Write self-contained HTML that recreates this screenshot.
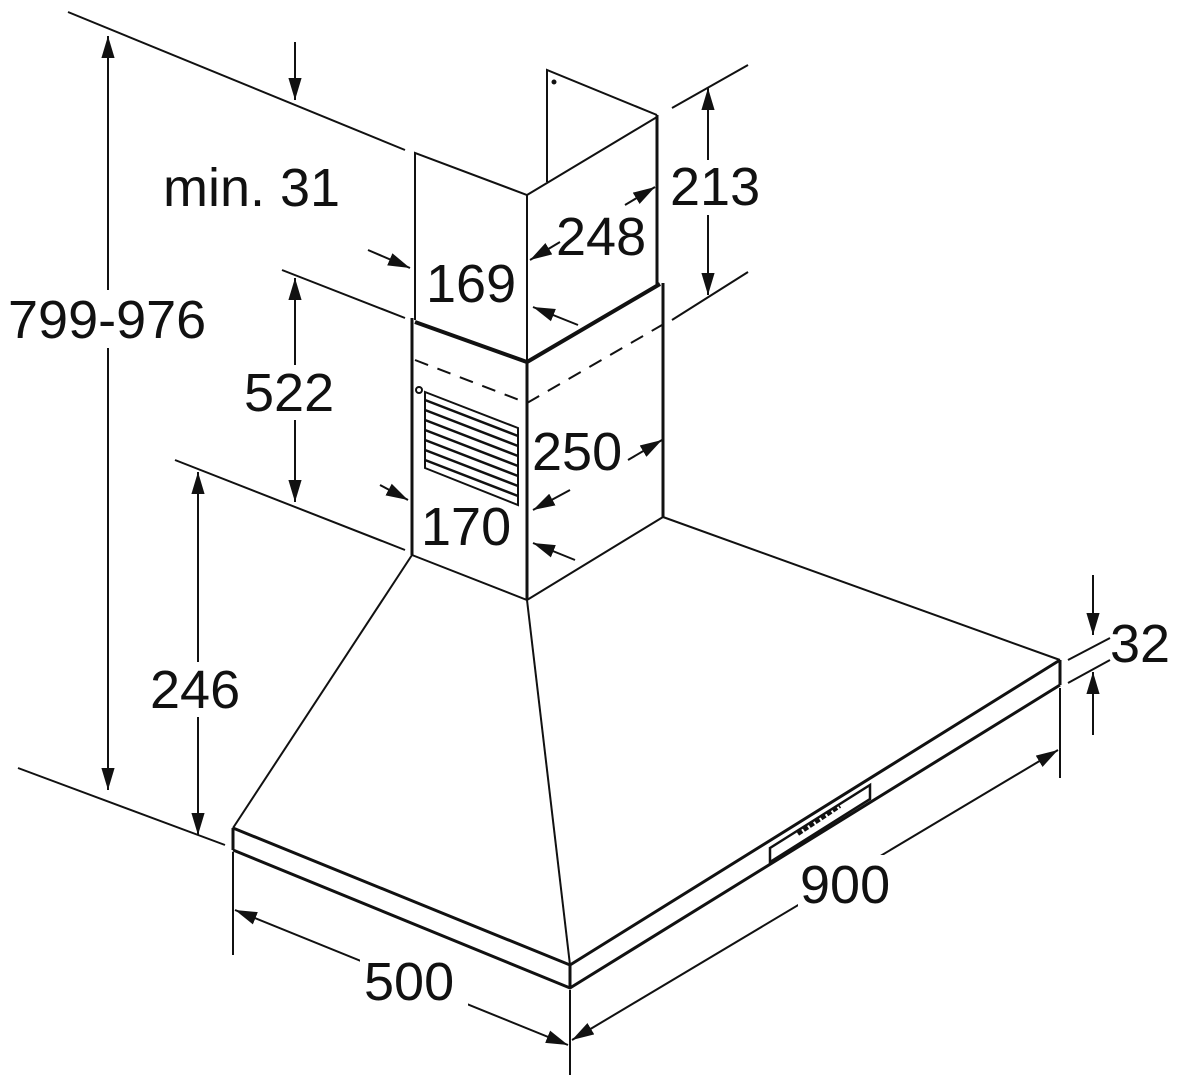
<!DOCTYPE html>
<html><head><style>
html,body{margin:0;padding:0;background:#fff}
svg text{font-family:"Liberation Sans",sans-serif;font-size:54px;fill:#111}
</style></head><body>
<svg width="1180" height="1086" viewBox="0 0 1180 1086" xmlns="http://www.w3.org/2000/svg">
<defs>
<marker id="b" viewBox="0 0 10 10" refX="10" refY="5" markerWidth="22" markerHeight="22" orient="auto-start-reverse" markerUnits="userSpaceOnUse"><path d="M0,2 L10,5 L0,8z" fill="#111"/></marker>
</defs>
<g stroke="#111" stroke-width="2" fill="none">
<line x1="68" y1="12" x2="405" y2="150"/>
<line x1="282" y1="270" x2="405" y2="318"/>
<line x1="175" y1="460" x2="405" y2="550"/>
<line x1="18" y1="768" x2="225" y2="845"/>
<line x1="672" y1="108" x2="748" y2="65"/>
<line x1="672" y1="320" x2="748" y2="272"/>
<line x1="1068" y1="660" x2="1110" y2="638"/>
<line x1="1068" y1="683" x2="1110" y2="660"/>
<line x1="1060" y1="688" x2="1060" y2="778"/>
<line x1="570" y1="990" x2="570" y2="1075"/>
<line x1="233" y1="852" x2="233" y2="955"/>
<polyline points="547,182 547,70 657,115"/>
<polyline points="415,320 415,153 527,195 657,117"/>
<line x1="527" y1="195" x2="527" y2="362"/>
<line x1="657" y1="115" x2="657" y2="285" stroke-width="3"/>
<polyline points="415,322 527,362 660,284" stroke-width="4"/>
<line x1="412" y1="318" x2="412" y2="555" stroke-width="3"/>
<line x1="527" y1="362" x2="527" y2="600" stroke-width="3"/>
<line x1="663" y1="283" x2="663" y2="517" stroke-width="3"/>
<polyline points="415,360 527,403 662,325" stroke-dasharray="14,10"/>
<polyline points="412,555 527,600 663,517"/>
<polygon points="425,392 518,428 518,505 425,468"/>
<g stroke-width="2.5">
<line x1="425" y1="400" x2="518" y2="436"/>
<line x1="425" y1="410" x2="518" y2="446"/>
<line x1="425" y1="420" x2="518" y2="456"/>
<line x1="425" y1="430" x2="518" y2="466"/>
<line x1="425" y1="440" x2="518" y2="476"/>
<line x1="425" y1="450" x2="518" y2="486"/>
<line x1="425" y1="460" x2="518" y2="496"/>
</g>
<circle cx="419" cy="390" r="3"/>
<circle cx="554" cy="82" r="1.5" fill="#111"/>
<line x1="412" y1="555" x2="233" y2="828"/>
<line x1="527" y1="600" x2="570" y2="965"/>
<line x1="663" y1="517" x2="1060" y2="660"/>
<polyline points="233,828 570,965 1060,660" stroke-width="3"/>
<polyline points="233,850 570,988 1060,685" stroke-width="3"/>
<line x1="233" y1="828" x2="233" y2="850" stroke-width="3"/>
<line x1="570" y1="965" x2="570" y2="988" stroke-width="3"/>
<line x1="1060" y1="660" x2="1060" y2="685" stroke-width="3"/>
<polygon points="770,848 870,785 870,799 770,862" stroke-width="2.5"/>
<line x1="798" y1="834" x2="840" y2="806" stroke-width="4" stroke-dasharray="5,2"/>
<line x1="108" y1="36" x2="108" y2="790" marker-start="url(#b)" marker-end="url(#b)"/>
<line x1="295" y1="42" x2="295" y2="100" marker-end="url(#b)"/>
<line x1="295" y1="278" x2="295" y2="502" marker-start="url(#b)" marker-end="url(#b)"/>
<line x1="198" y1="472" x2="198" y2="835" marker-start="url(#b)" marker-end="url(#b)"/>
<line x1="708" y1="88" x2="708" y2="295" marker-start="url(#b)" marker-end="url(#b)"/>
<line x1="625" y1="205" x2="655" y2="187" marker-end="url(#b)"/>
<line x1="560" y1="242" x2="530" y2="260" marker-end="url(#b)"/>
<line x1="368" y1="250" x2="410" y2="268" marker-end="url(#b)"/>
<line x1="578" y1="325" x2="533" y2="307" marker-end="url(#b)"/>
<line x1="628" y1="460" x2="662" y2="440" marker-end="url(#b)"/>
<line x1="380" y1="485" x2="408" y2="500" marker-end="url(#b)"/>
<line x1="570" y1="490" x2="533" y2="510" marker-end="url(#b)"/>
<line x1="575" y1="560" x2="533" y2="543" marker-end="url(#b)"/>
<line x1="1093" y1="575" x2="1093" y2="635" marker-end="url(#b)"/>
<line x1="1093" y1="735" x2="1093" y2="672" marker-end="url(#b)"/>
<line x1="572" y1="1040" x2="1058" y2="750" marker-start="url(#b)" marker-end="url(#b)"/>
<line x1="235" y1="910" x2="568" y2="1045" marker-start="url(#b)" marker-end="url(#b)"/>
</g>
<g fill="#fff">
<rect x="798" y="855" width="100" height="58"/>
<rect x="360" y="950" width="108" height="58"/>
<rect x="8" y="290" width="212" height="58"/>
<rect x="242" y="365" width="100" height="55"/>
<rect x="148" y="662" width="100" height="55"/>
<rect x="668" y="160" width="100" height="55"/>
</g>
<text x="163" y="206">min. 31</text>
<text x="8" y="338">799-976</text>
<text x="244" y="411">522</text>
<text x="150" y="708">246</text>
<text x="670" y="205">213</text>
<text x="556" y="255">248</text>
<text x="426" y="302">169</text>
<text x="532" y="470">250</text>
<text x="421" y="545">170</text>
<text x="1110" y="662">32</text>
<text x="800" y="903">900</text>
<text x="364" y="1000">500</text>
</svg>
</body></html>
